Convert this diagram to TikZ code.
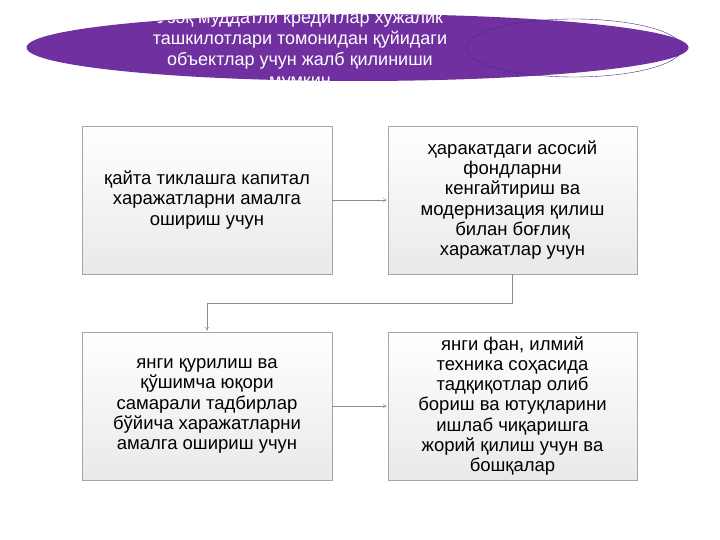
\documentclass[tikz,border=0pt]{standalone}
\usepackage{fontspec}
\setmainfont{Liberation Sans}
\usepackage{tikz}
\usetikzlibrary{arrows.meta}
\usetikzlibrary{positioning}
\usetikzlibrary{shapes.geometric}
\usetikzlibrary{shadows}

\definecolor{titlepurple}{HTML}{7030A0}
\definecolor{ringblue}{HTML}{452C8A}
\definecolor{boxline}{HTML}{A6A6A6}
\definecolor{boxbottom}{HTML}{E9E9E9}
\definecolor{linkgray}{HTML}{8C8C8C}
\definecolor{tipviolet}{HTML}{8A8AC8}

\tikzset{
  itembox/.style={shape=rectangle,draw=boxline,top color=white,bottom color=boxbottom,
    drop shadow={opacity=0.25,shadow xshift=1pt,shadow yshift=-1pt},
    minimum width=250pt,minimum height=148pt,align=center,font=\fontsize{18.5}{20.3}\selectfont},
  link/.style={draw=linkgray,thin,shorten >=1pt}
}

\begin{document}
\begin{tikzpicture}[->,>={To[length=4pt,width=5pt,color=tipviolet]},x=1pt,y=-1pt]
        \useasboundingbox[fill=white] (0,0) rectangle (720,540);

            % Title ellipse
            \node[shape=ellipse,fill=titlepurple,minimum width=662pt,minimum height=67pt,inner sep=0pt] (title) at (357.5,47.5) {};
            \node[shape=ellipse,draw=ringblue,thin,minimum width=216pt,minimum height=58pt,inner sep=0pt] (ring) at (574,48) {};
            \begin{scope}
              \clip (357.5,47.5) ellipse [x radius=331pt,y radius=33.5pt];
              \node[text=white,align=center,font=\fontsize{18}{20.8}\selectfont] (titletext) at (300,50)
                {Узоқ муддатли кредитлар хўжалик\\ташкилотлари томонидан қуйидаги\\объектлар учун жалб қилиниши\\мумкин};
            \end{scope}

            % Expense boxes
            \node[itembox] (rebuild) at (207,200)
              {қайта тиклашга капитал\\харажатларни амалга\\ошириш учун};
            \node[itembox,minimum width=249pt] (modern) at (512.5,200)
              {ҳаракатдаги асосий\\фондларни\\кенгайтириш ва\\модернизация қилиш\\билан боғлиқ\\харажатлар учун};
            \node[itembox] (newbuild) at (207,406)
              {янги қурилиш ва\\қўшимча юқори\\самарали тадбирлар\\бўйича харажатларни\\амалга ошириш учун};
            \node[itembox,minimum width=249pt] (science) at (512.5,406)
              {янги фан, илмий\\техника соҳасида\\тадқиқотлар олиб\\бориш ва ютуқларини\\ишлаб чиқаришга\\жорий қилиш учун ва\\бошқалар};

            % Arrows between boxes
            \path[link] (rebuild) edge (modern);
            \path[link] (newbuild) edge (science);
            \draw[link] (modern.south) -- ++(0,29) -| (newbuild.north);

        \end{tikzpicture}
\end{document}
